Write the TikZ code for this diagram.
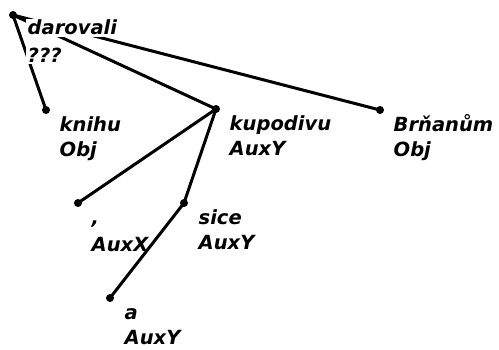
\documentclass[tikz,border=0pt]{standalone}
\usepackage{fontspec}
\setsansfont{DejaVu Sans}
\usepackage{tikz}

\begin{document}
\begin{tikzpicture}[
    x=1pt, y=-1pt,
    dot/.style = {
        circle, fill=black, inner sep=0pt, minimum size=8pt
    },
    lbl/.style = {
        anchor=base west, inner sep=1.5pt, fill=white,
        font=\sffamily\bfseries\itshape\fontsize{19.5}{24}\selectfont
    },
    edge/.style = {line width=3pt},
]
\useasboundingbox (0,0) rectangle (499,350);

%% ── Dots ─────────────────────────────────────────────────────────────
\node[dot] (darovali) at (13,  15)  {};
\node[dot] (knihu)    at (46,  110) {};
\node[dot] (kupodivu) at (216, 109) {};
\node[dot] (brnanum)  at (380, 110) {};
\node[dot] (comma)    at (78,  203) {};
\node[dot] (sice)     at (184, 203) {};
\node[dot] (a)        at (110, 298) {};

%% ── Edges from the root (hidden behind its label) ───────────────────
\draw[edge] (darovali.center) -- (knihu.center);
\draw[edge] (darovali.center) -- (kupodivu.center);
\draw[edge] (darovali.center) -- (brnanum.center);

%% ── Labels: word (y+22) and function (y+47) ──────────────────────────
\node[lbl] (darovaliW) at ([shift={(13,20)}]darovali.center) {darovali};
\node[lbl] (darovaliF) at ([shift={(13,48)}]darovali.center) {???};

\node[lbl] (knihuW) at ([shift={(12,22)}]knihu.center) {knihu};
\node[lbl] (knihuF) at ([shift={(12,47)}]knihu.center) {Obj};

\node[lbl] (kupodivuW) at ([shift={(12,22)}]kupodivu.center) {kupodivu};
\node[lbl] (kupodivuF) at ([shift={(12,47)}]kupodivu.center) {AuxY};

\node[lbl] (brnanumW) at ([shift={(12,22)}]brnanum.center) {Brňanům};
\node[lbl] (brnanumF) at ([shift={(12,47)}]brnanum.center) {Obj};

\node[lbl] (commaW) at ([shift={(12,22)}]comma.center) {,};
\node[lbl] (commaF) at ([shift={(12,49)}]comma.center) {AuxX};

\node[lbl] (siceW) at ([shift={(13,22)}]sice.center) {sice};
\node[lbl] (siceF) at ([shift={(13,47)}]sice.center) {AuxY};

\node[lbl] (aW) at ([shift={(13,22)}]a.center) {a};
\node[lbl] (aF) at ([shift={(13,47)}]a.center) {AuxY};

%% ── Lower edges (drawn over the labels) ──────────────────────────────
\draw[edge] (kupodivu.center) -- (comma.center);
\draw[edge] (kupodivu.center) -- (sice.center);
\draw[edge] (sice.center) -- (a.center);

\end{tikzpicture}
\end{document}
